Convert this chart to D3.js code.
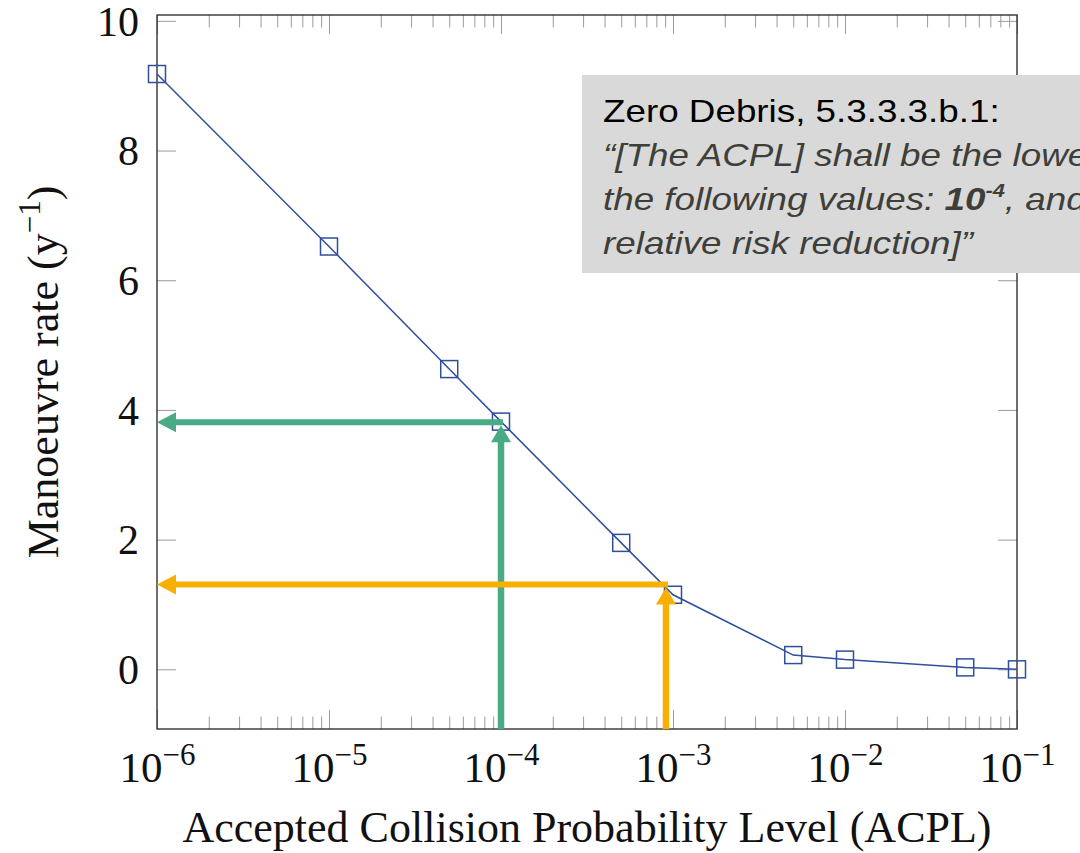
<!DOCTYPE html>
<meta charset="utf-8">
<style>
body { margin: 0; background: #fff; }
svg { display: block; }
.tick line { stroke: #9a9a9a; stroke-width: 1; }
.domain { display: none; }
.serif { font-family: "Liberation Serif", "Times New Roman", serif; fill: #111; }
</style>
<svg width="1080" height="853"></svg>
<script src="https://cdn.jsdelivr.net/npm/d3@7/dist/d3.min.js"></script>
<script>

// values
var acpl = [1e-6, 1e-5, 5e-5, 1e-4, 5e-4, 1e-3, 5e-3, 1e-2, 5e-2, 1e-1];
var rate = [9.18, 6.52, 4.63, 3.82, 1.95, 1.15, 0.22, 0.15, 0.03, 0.0];

var xMajor = [1e-6, 1e-5, 1e-4, 1e-3, 1e-2, 1e-1];
var xExp = ["\u22126", "\u22125", "\u22124", "\u22123", "\u22122", "\u22121"];
var yTicks = [0, 2, 4, 6, 8, 10];

// guide arrows (ACPL threshold -> manoeuvre rate)
var guideAcpl = [1e-4, 9.1e-4];
var guideRate = [3.81, 1.31];
var guideColor = ["#4aaa86", "#f8b000"];

var noteTitle = "Zero Debris, 5.3.3.3.b.1:";

var svg = d3.select("svg");
var pL = 157, pR = 1017, pT = 15, pB = 729;

var x = d3.scaleLog().domain([1e-6, 1e-1]).range([pL, pR]);
var y = d3.scaleLinear().domain([-0.92, 10.09]).range([pB, pT]);

var xMinor = x.ticks().filter(function(d) {
  return Math.abs(Math.log10(d) - Math.round(Math.log10(d))) > 1e-6;
});

// minor + major ticks on all four sides, pointing inwards
function ticksOn(axis, pos) {
  return svg.append("g").attr("transform", pos).call(axis);
}
ticksOn(d3.axisBottom(x).tickValues(xMinor).tickSize(-12.5).tickFormat(""), "translate(0," + pB + ")");
ticksOn(d3.axisTop(x).tickValues(xMinor).tickSize(-12.5).tickFormat(""), "translate(0," + pT + ")");
ticksOn(d3.axisTop(x).tickValues(xMajor).tickSize(-19).tickFormat(""), "translate(0," + pT + ")");
ticksOn(d3.axisRight(y).tickValues(yTicks).tickSize(-19).tickFormat(""), "translate(" + pR + ",0)");

var gx = ticksOn(d3.axisBottom(x).tickValues(xMajor).tickSize(-19).tickPadding(0).tickFormat(""), "translate(0," + pB + ")");
gx.selectAll(".tick text").remove();
gx.selectAll(".tick").append("text")
    .attr("class", "serif")
    .attr("y", 53)
    .attr("text-anchor", "middle")
    .style("font-size", "43px")
    .each(function(d, i) {
      var t = d3.select(this);
      t.append("tspan").text("10");
      t.append("tspan").attr("dy", -17).style("font-size", "31px").text(xExp[i]);
    });

var gy = ticksOn(d3.axisLeft(y).tickValues(yTicks).tickSize(-19).tickPadding(18), "translate(" + pL + ",0)");
gy.selectAll(".tick text")
    .attr("class", "serif")
    .attr("fill", "#111")
    .attr("dy", "0.34em")
    .style("font-size", "42px");

// frame
svg.append("rect")
    .attr("x", pL).attr("y", pT)
    .attr("width", pR - pL).attr("height", pB - pT)
    .attr("fill", "none")
    .attr("stroke", "#333")
    .attr("stroke-width", 1.4);

// axis titles
svg.append("text")
    .attr("class", "serif")
    .attr("x", (pL + pR) / 2)
    .attr("y", 842)
    .attr("text-anchor", "middle")
    .style("font-size", "44px")
    .text("Accepted Collision Probability Level (ACPL)");

var yl = svg.append("text")
    .attr("class", "serif")
    .attr("transform", "translate(58," + ((pT + pB) / 2) + ") rotate(-90)")
    .attr("text-anchor", "middle")
    .style("font-size", "44px");
yl.append("tspan").text("Manoeuvre rate (y");
yl.append("tspan").attr("dy", -18).style("font-size", "31px").text("\u22121");
yl.append("tspan").attr("dy", 18).text(")");

// series
var pts = acpl.map(function(d, i) { return [d, rate[i]]; });
svg.append("path")
    .datum(pts)
    .attr("fill", "none")
    .attr("stroke", "#2f4e9c")
    .attr("stroke-width", 1.5)
    .attr("d", d3.line().x(function(d) { return x(d[0]); }).y(function(d) { return y(d[1]); }));

svg.selectAll(".mark")
    .data(pts)
    .enter().append("rect")
    .attr("class", "mark")
    .attr("x", function(d) { return x(d[0]) - 8.5; })
    .attr("y", function(d) { return y(d[1]) - 8.5; })
    .attr("width", 17).attr("height", 17)
    .attr("fill", "none")
    .attr("stroke", "#2f4e9c")
    .attr("stroke-width", 1.5);

// guide arrows
var head = 19, half = 10;
guideAcpl.forEach(function(a, i) {
  var px = x(a), py = y(guideRate[i]), c = guideColor[i];
  var g = svg.append("g");
  g.append("line")
      .attr("x1", px + 2).attr("y1", py)
      .attr("x2", pL + head - 1).attr("y2", py)
      .attr("stroke", c).attr("stroke-width", 6);
  g.append("path")
      .attr("d", "M" + pL + "," + py + "L" + (pL + head) + "," + (py - half) + "L" + (pL + head) + "," + (py + half) + "Z")
      .attr("fill", c);
  g.append("line")
      .attr("x1", px).attr("y1", pB)
      .attr("x2", px).attr("y2", py + head)
      .attr("stroke", c).attr("stroke-width", 6.5);
  g.append("path")
      .attr("d", "M" + px + "," + (py + 3) + "L" + (px - half) + "," + (py + head + 1) + "L" + (px + half) + "," + (py + head + 1) + "Z")
      .attr("fill", c);
});

// quote box (text is a bit wider than the font's natural width)
var note = svg.append("g").style("font-family", "'Liberation Sans', Arial, sans-serif").style("font-size", "32px");
note.append("rect")
    .attr("x", 582).attr("y", 75)
    .attr("width", 520).attr("height", 198)
    .attr("fill", "#d9d9d9");
function noteLine(yy) {
  return note.append("text").attr("transform", "translate(603," + yy + ") scale(1.15,1)");
}
noteLine(122).attr("fill", "#000").text(noteTitle);

noteLine(166).attr("fill", "#3f3f3a").style("font-style", "italic")
    .text("\u201c[The ACPL] shall be the lowest of");
var l3 = noteLine(210).attr("fill", "#3f3f3a").style("font-style", "italic");
l3.append("tspan").text("the following values: ");
l3.append("tspan").style("font-weight", "bold").text("10");
l3.append("tspan").style("font-weight", "bold").style("font-size", "19px").attr("dy", -13).text("-4");
l3.append("tspan").attr("dy", 13).text(", and the");
noteLine(254).attr("fill", "#3f3f3a").style("font-style", "italic")
    .text("relative risk reduction]\u201d");

</script>
